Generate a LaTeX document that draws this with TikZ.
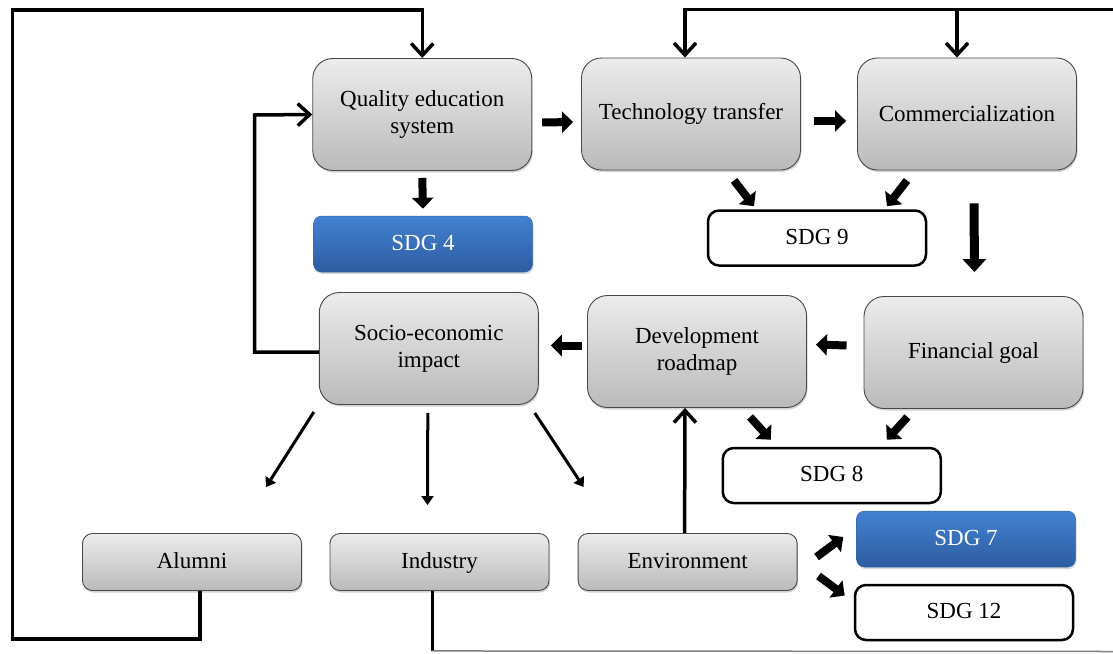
\documentclass[tikz,border=0pt]{standalone}
\usepackage{fontspec}
\setmainfont{Liberation Serif}
\usepackage{xcolor}
\usepackage{tikz}
\usetikzlibrary{arrows.meta,positioning,calc,shadows}
\definecolor{boxtop}{RGB}{236,236,236}
\definecolor{boxbottom}{RGB}{186,186,186}
\definecolor{boxedge}{RGB}{72,72,72}
\definecolor{sdgblue}{RGB}{66,130,210}
\definecolor{sdgbluedark}{RGB}{46,92,160}

\begin{document}
\begin{tikzpicture}[x=1pt, y=-1pt, font=\fontsize{23}{27}\selectfont,
    stage/.style={rectangle, rounded corners=20pt, draw=boxedge, line width=0.9pt, top color=boxtop, bottom color=boxbottom, minimum width=219pt, minimum height=112pt, align=center, inner sep=0pt, drop shadow={shadow xshift=1pt, shadow yshift=-2pt, opacity=0.35}},
    actor/.style={stage, rounded corners=10pt, minimum height=57pt, text height=16pt, text depth=4pt},
    sdgblue/.style={rectangle, rounded corners=8pt, draw=sdgblue!80!black, line width=0.5pt, top color=sdgblue, bottom color=sdgbluedark, text=white, minimum width=219pt, minimum height=56pt, inner sep=0pt, text height=16pt, text depth=4pt, drop shadow={shadow xshift=1pt, shadow yshift=-2pt, opacity=0.3}},
    sdgplain/.style={rectangle, rounded corners=11pt, draw=black, line width=2.5pt, fill=white, minimum width=218pt, minimum height=55pt, inner sep=0pt, text height=16pt, text depth=4pt},
    blockarrow/.style={line width=8pt, -{Triangle[length=11pt,width=21pt]}},
    loopline/.style={line width=3.5pt, -{Straight Barb[length=12pt,width=22pt,line width=3.5pt]}},
    spread/.style={line width=3pt, -{Triangle[length=9pt,width=12pt]}}]
        \useasboundingbox (0,0) rectangle (1113,653);

        \node[stage] (qes) at (422.25,114.5) {Quality education\\system};
        \node[stage] (tech) at (691,114) {Technology transfer};
        \node[stage] (comm) at (967,114) {Commercialization};
        \node[sdgblue] (sdgfour) at (423,244) {SDG 4};
        \node[sdgplain] (sdgnine) at (817,238) {SDG 9};
        \node[stage] (socio) at (428.8,348.5) {Socio-economic\\impact};
        \node[stage] (dev) at (697,351.5) {Development\\roadmap};
        \node[stage] (fin) at (973.5,352.5) {Financial goal};
        \node[sdgplain] (sdgeight) at (831.8,475.5) {SDG 8};
        \node[actor] (alumni) at (192,562) {Alumni};
        \node[actor] (industry) at (439.5,562) {Industry};
        \node[actor] (env) at (687.6,562) {Environment};
        \node[sdgblue] (sdgseven) at (966,539) {SDG 7};
        \node[sdgplain] (sdgtwelve) at (964,612.5) {SDG 12};

        % rails of the feedback loops
        \coordinate (leftrail) at (12.5,639);
        \coordinate (toprail) at (12.5,10);
        \coordinate (innerrail) at (254.5,115);
        \coordinate (rightrail) at (1113,9.5);
        \coordinate (bottomrail) at (1113,651.5);

        \draw[loopline] ($(alumni.south)+(8,0)$) |- (leftrail) -- (toprail) -| (qes.north);
        \draw[loopline] ($(socio.west)+(0,3.5)$) -| (innerrail) -- (qes.west);
        \draw[loopline] (rightrail) -| ($(tech.north)+(-6,0)$);
        \draw[loopline] (rightrail) -| ($(comm.north)+(-10,0)$);
        \draw[line width=3pt] ($(industry.south)+(-7,0)$) -- ++(0,60) coordinate (indcorner);
        \draw[gray, line width=1.5pt] (indcorner) -- (bottomrail);
        \draw[loopline] ($(env.north)+(-3,0)$) -- ($(dev.south)+(-12,0)$);

        \draw[blockarrow] ($(qes.east)+(10,8)$) -- ($(tech.west)+(-8,8)$);
        \draw[blockarrow] ($(tech.east)+(13,7)$) -- ($(comm.west)+(-11,7)$);
        \draw[blockarrow] ($(qes.south)+(0,7)$) -- ($(sdgfour.north)+(0,-7)$);
        \draw[blockarrow] ($(tech.south)+(43,10)$) -- ($(sdgnine.north)+(-63,-3)$);
        \draw[blockarrow] ($(comm.south)+(-60,10)$) -- ($(sdgnine.north)+(70,-3)$);
        \draw[blockarrow, line width=9pt, -{Triangle[length=13pt,width=23pt]}] ($(comm.south)+(7,33)$) -- ($(fin.north)+(1,-24)$);
        \draw[blockarrow] ($(fin.west)+(-17,-7)$) -- ($(dev.east)+(9,-7)$);
        \draw[blockarrow] ($(dev.west)+(-5,-6)$) -- ($(socio.east)+(12,-3)$);
        \draw[blockarrow] ($(dev.south)+(53,9)$) -- ($(sdgeight.north)+(-61,-7)$);
        \draw[blockarrow] ($(fin.south)+(-66,8)$) -- ($(sdgeight.north)+(55,-7)$);
        \draw[blockarrow] ($(env.east)+(19,-5)$) -- ($(sdgseven.west)+(-13,-2)$);
        \draw[blockarrow] ($(env.east)+(21,14)$) -- ($(sdgtwelve.west)+(-9,-17)$);

        \draw[spread] ($(socio.south west)+(-5,7)$) -- ($(alumni.north east)+(-36,-46)$);
        \draw[spread] ($(socio.south)+(-1,8)$) -- ($(industry.north)+(-12,-28)$);
        \draw[spread] ($(socio.south east)+(-4,8)$) -- ($(env.north west)+(6,-46)$);
      \end{tikzpicture}
\end{document}
